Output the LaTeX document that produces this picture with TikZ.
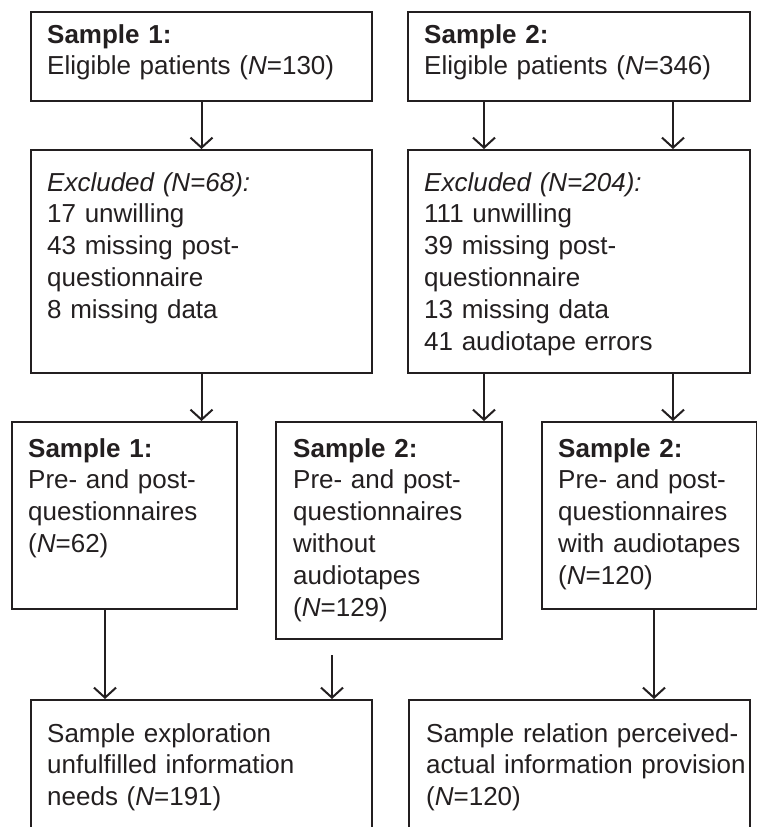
\documentclass[tikz,border=0pt]{standalone}
\usepackage{fontspec}
\setmainfont{Liberation Sans}
\usetikzlibrary{arrows.meta,positioning}
\definecolor{ink}{HTML}{231F20}

\begin{document}
\begin{tikzpicture}[x=1pt, y=-1pt,
  box/.style={draw=ink, line width=2pt, anchor=north west, inner sep=0pt},
  txt/.style={anchor=base west, inner sep=0pt, align=left, text width=330pt,
    text=ink, font=\fontsize{26}{31.8}\selectfont},
  arr/.style={draw=ink, line width=2pt, -{Straight Barb[length=10pt, width=22pt]}}]
  \useasboundingbox (0,0) rectangle (757,827);
  \clip (0,0) rectangle (757,827);

  \node[box, minimum width=341pt, minimum height=89pt] (top1) at (30,11) {};
  \node[box, minimum width=342pt, minimum height=89pt] (top2) at (407,11) {};
  \node[box, minimum width=341pt, minimum height=223pt] (ex1) at (30,149) {};
  \node[box, minimum width=342pt, minimum height=223pt] (ex2) at (407,149) {};
  \node[box, minimum width=225pt, minimum height=187pt] (pp1) at (11,421) {};
  \node[box, minimum width=226pt, minimum height=217pt] (pp2) at (275,421) {};
  \node[box, minimum width=215pt, minimum height=187pt] (pp3) at (541,421) {};
  \node[box, minimum width=341pt, minimum height=200pt] (out1) at (30,699) {};
  \node[box, minimum width=341pt, minimum height=200pt] (out2) at (408,699) {};

  \node[txt] (top1t) at ([shift={(17pt,-32pt)}]top1.north west)
    {\textbf{Sample 1:}\\Eligible patients (\textit{N}=130)};
  \node[txt] (top2t) at ([shift={(17pt,-32pt)}]top2.north west)
    {\textbf{Sample 2:}\\Eligible patients (\textit{N}=346)};
  \node[txt] (ex1t) at ([shift={(17pt,-42pt)}]ex1.north west)
    {\textit{Excluded (N=68):}\\17 unwilling\\43 missing post-\\questionnaire\\8 missing data};
  \node[txt] (ex2t) at ([shift={(17pt,-42pt)}]ex2.north west)
    {\textit{Excluded (N=204):}\\111 unwilling\\39 missing post-\\questionnaire\\13 missing data\\41 audiotape errors};
  \node[txt] (pp1t) at ([shift={(17pt,-36pt)}]pp1.north west)
    {\textbf{Sample 1:}\\Pre- and post-\\questionnaires\\(\textit{N}=62)};
  \node[txt] (pp2t) at ([shift={(18pt,-36pt)}]pp2.north west)
    {\textbf{Sample 2:}\\Pre- and post-\\questionnaires\\without\\audiotapes\\(\textit{N}=129)};
  \node[txt] (pp3t) at ([shift={(17pt,-36pt)}]pp3.north west)
    {\textbf{Sample 2:}\\Pre- and post-\\questionnaires\\with audiotapes\\(\textit{N}=120)};
  \node[txt] (out1t) at ([shift={(17pt,-43pt)}]out1.north west)
    {Sample exploration\\unfulfilled information\\needs (\textit{N}=191)};
  \node[txt] (out2t) at ([shift={(18pt,-43pt)}]out2.north west)
    {Sample relation perceived-\\actual information provision\\(\textit{N}=120)};

  \coordinate (gap) at ([shift={(-57pt,-15pt)}]pp2.south);

  \draw[arr] (top1.south) -- (ex1.north);
  \draw[arr] ([xshift=-95pt]top2.south) -- ([xshift=-95pt]ex2.north);
  \draw[arr] ([xshift=94pt]top2.south) -- ([xshift=94pt]ex2.north);
  \draw[arr] (ex1.south) -- (ex1.south |- pp1.north);
  \draw[arr] ([xshift=-95pt]ex2.south) -- ([xshift=-95pt]ex2.south |- pp2.north);
  \draw[arr] ([xshift=94pt]ex2.south) -- ([xshift=94pt]ex2.south |- pp3.north);
  \draw[arr] ([xshift=-19.5pt]pp1.south) -- ([xshift=-19.5pt]pp1.south |- out1.north);
  \draw[arr] (gap) -- (gap |- out1.north);
  \draw[arr] ([xshift=4.5pt]pp3.south) -- ([xshift=4.5pt]pp3.south |- out2.north);
\end{tikzpicture}
\end{document}
